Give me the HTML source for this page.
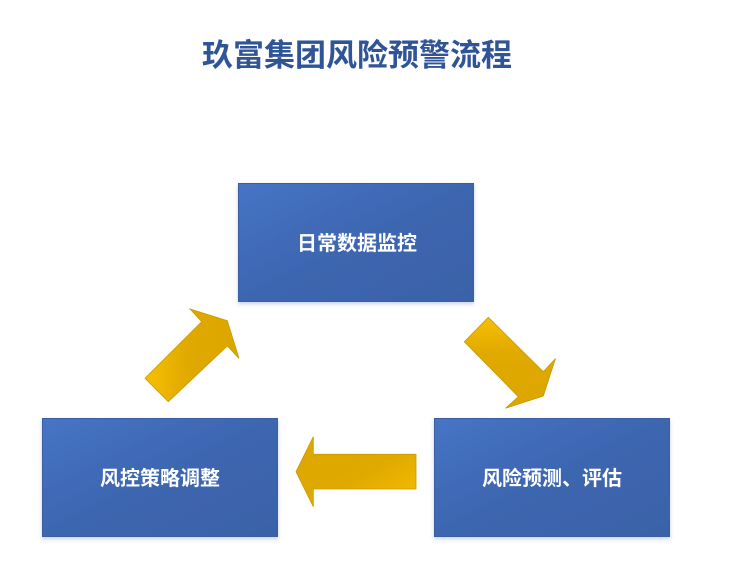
<!DOCTYPE html>
<html><head><meta charset="utf-8"><style>
html,body{margin:0;padding:0;background:#fff;}
body{width:742px;height:569px;overflow:hidden;position:relative;}
svg{position:absolute;left:0;top:0;}
</style></head><body>
<svg width="742" height="569" viewBox="0 0 742 569" xmlns="http://www.w3.org/2000/svg">
<defs>
<linearGradient id="bg" x1="0" y1="0" x2="1" y2="1">
<stop offset="0" stop-color="#4674C6"/>
<stop offset="0.5" stop-color="#3D66B0"/>
<stop offset="1" stop-color="#3A62A8"/>
</linearGradient>
<linearGradient id="g1" x1="0" y1="0.5" x2="1" y2="0.5">
<stop offset="0" stop-color="#F7C000"/>
<stop offset="0.45" stop-color="#E0A900"/>
<stop offset="1" stop-color="#DCA600"/>
</linearGradient>
<linearGradient id="g2" x1="0" y1="0" x2="0" y2="1">
<stop offset="0" stop-color="#F7C000"/>
<stop offset="0.4" stop-color="#E0A900"/>
<stop offset="1" stop-color="#DCA600"/>
</linearGradient>
<linearGradient id="g3" x1="1" y1="1" x2="0" y2="0">
<stop offset="0" stop-color="#F7C000"/>
<stop offset="0.45" stop-color="#E0A900"/>
<stop offset="1" stop-color="#DCA600"/>
</linearGradient>
<filter id="sh" x="-10%" y="-10%" width="120%" height="130%">
<feGaussianBlur in="SourceAlpha" stdDeviation="2"/>
<feOffset dx="0" dy="2" result="b"/>
<feFlood flood-color="#9DB3DA" flood-opacity="0.6"/>
<feComposite in2="b" operator="in"/>
<feMerge><feMergeNode/><feMergeNode in="SourceGraphic"/></feMerge>
</filter>
</defs>

<text x="357" y="66" text-anchor="middle" font-family="'Liberation Sans','Noto Sans CJK SC',sans-serif" font-size="31" font-weight="bold" fill="#2F5597">玖富集团风险预警流程</text>

<rect x="238.5" y="183.5" width="235" height="118" fill="url(#bg)" stroke="#3A5E9E" stroke-width="1" filter="url(#sh)"/>
<rect x="42.5" y="418.5" width="235" height="118" fill="url(#bg)" stroke="#3A5E9E" stroke-width="1" filter="url(#sh)"/>
<rect x="434.5" y="418.5" width="235" height="118" fill="url(#bg)" stroke="#3A5E9E" stroke-width="1" filter="url(#sh)"/>

<g font-family="'Liberation Sans','Noto Sans CJK SC',sans-serif" font-size="20" font-weight="bold" fill="#fff" text-anchor="middle">
<text x="357" y="250">日常数据监控</text>
<text x="160" y="485">风控策略调整</text>
<text x="552" y="485">风险预测、评估</text>
</g>

<polygon points="145,378.3 201.7,321.7 190,309 227.3,320.7 239,358.3 227.3,346 168.3,401.7" fill="url(#g1)" stroke="#C99A00" stroke-width="0.8"/>
<polygon points="488.3,317.3 543.3,371.7 555.5,358.5 543.3,396 505.5,408.3 518.3,396.7 464.3,341.7" fill="url(#g2)" stroke="#C99A00" stroke-width="0.8"/>
<polygon points="416,454.3 313.3,454.3 313.3,436.7 296,471.7 313.3,506.7 313.3,489 416,489" fill="url(#g3)" stroke="#C99A00" stroke-width="0.8"/>
</svg>
</body></html>
